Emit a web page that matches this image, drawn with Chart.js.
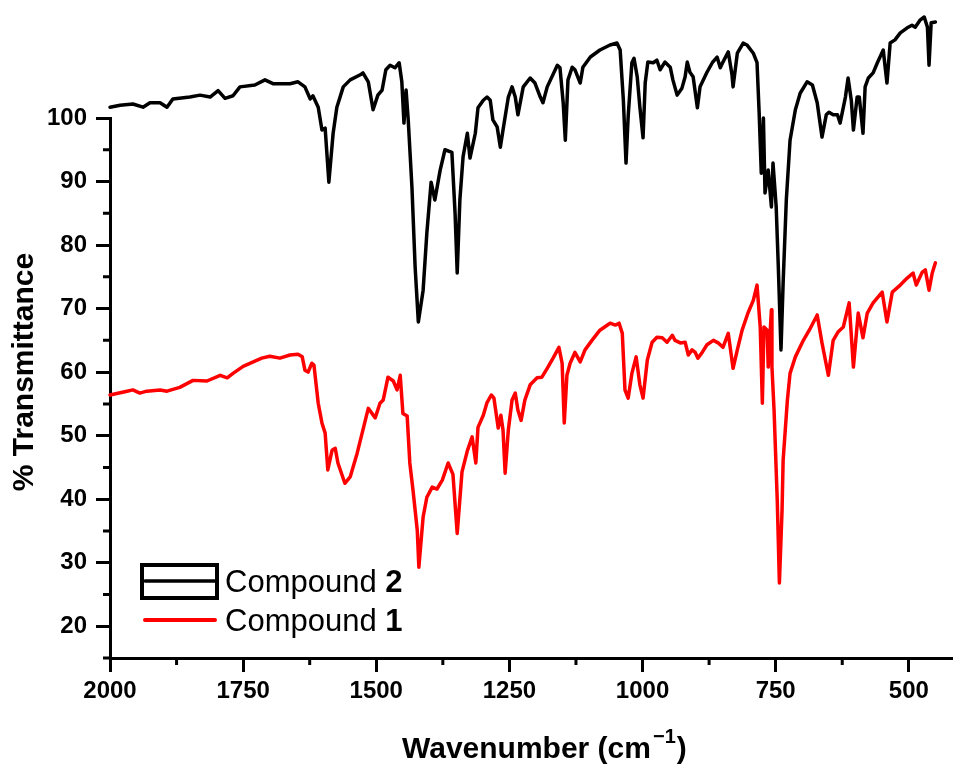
<!DOCTYPE html>
<html>
<head>
<meta charset="utf-8">
<title>IR spectra</title>
<script src="https://cdn.jsdelivr.net/npm/chart.js@4/dist/chart.umd.min.js"></script>
<style>
  html, body { margin: 0; padding: 0; background: #fff; }
  #wrap { width: 953px; height: 767px; }
</style>
</head>
<body>
<div id="wrap"><canvas id="ir" width="953" height="767"></canvas></div>
<script>
// Compound 2 (black trace), wavenumber in cm-1 and % transmittance
const WAVENUMBER_2 = [2000,1981,1957,1938,1925,1906,1893,1882,1850,1831,1812,1797,1784,1769,1756,1728,1709,1694,1662,1647,
  1634,1624,1619,1609,1602,1596,1589,1581,1574,1562,1549,1530,1525,1515,1506,1497,1489,1482,1474,1465,
  1457,1452,1448,1444,1440,1433,1427,1421,1412,1405,1397,1390,1380,1371,1358,1352,1348,1343,1337,1329,
  1324,1314,1309,1299,1292,1286,1281,1273,1267,1262,1252,1245,1239,1234,1224,1211,1202,1192,1187,1179,
  1160,1155,1149,1145,1140,1132,1127,1117,1112,1098,1080,1061,1048,1042,1036,1031,1027,1020,1016,1010,
  1005,999,995,990,980,973,967,958,948,943,935,926,920,916,911,905,897,892,879,869,
  860,854,849,839,832,830,822,811,804,792,785,781,777,773,770,764,758,755,749,745,
  740,736,730,723,713,704,691,681,672,663,655,650,642,634,629,619,614,608,604,597,
  593,586,582,576,567,559,548,541,535,526,516,503,494,488,479,471,465,462,458,450];
const TRANSMITTANCE_2 = [101.7,102.0,102.2,101.7,102.4,102.4,101.7,103.0,103.3,103.6,103.3,104.3,103.1,103.5,104.9,105.2,106.0,105.4,105.4,105.7,
  104.9,103.0,103.5,101.7,98.1,98.4,89.9,97.6,101.7,104.9,106.0,106.8,107.1,105.7,101.3,103.6,104.4,107.6,108.3,107.9,
  108.7,105.7,99.2,104.4,99.7,89.1,76.5,67.9,72.9,81.9,89.9,87.1,91.8,95.0,94.6,85.0,75.6,87.1,93.9,97.6,
  93.7,97.6,101.6,102.8,103.3,102.8,99.7,98.6,95.4,98.1,103.3,104.9,103.3,100.5,104.9,106.3,105.5,103.3,102.4,104.9,
  108.3,107.9,102.4,96.5,106.0,108.0,107.6,105.5,108.0,109.6,110.7,111.5,111.8,110.7,102.8,92.9,100.2,108.7,109.4,106.5,
  101.7,96.9,105.5,108.8,108.7,109.1,107.6,108.8,108.0,106.0,103.6,104.7,106.5,108.8,107.2,106.5,101.6,104.9,107.2,108.7,
  109.6,107.9,108.8,110.4,106.8,104.9,110.2,111.8,111.5,110.2,108.7,100.8,91.3,100.0,88.2,91.8,86.0,92.9,86.0,76.5,
  63.5,74.0,87.1,96.5,101.3,103.9,105.7,105.2,102.4,97.0,100.5,100.9,100.5,100.5,99.2,103.3,106.3,102.8,98.1,103.3,
  103.3,97.6,104.9,106.3,107.1,108.7,110.7,105.5,111.8,112.3,113.4,114.2,114.6,114.3,115.4,115.9,114.3,108.3,115.0,115.1];

// Compound 1 (red trace)
const WAVENUMBER_1 = [2000,1968,1957,1944,1931,1906,1893,1869,1844,1818,1793,1780,1769,1750,1731,1715,1700,1681,1662,1647,
  1639,1634,1628,1621,1617,1609,1602,1596,1591,1583,1577,1572,1559,1549,1536,1525,1515,1502,1493,1487,
  1478,1468,1461,1455,1450,1442,1437,1431,1423,1420,1412,1405,1395,1386,1376,1365,1356,1348,1339,1329,
  1320,1313,1309,1299,1292,1284,1279,1271,1266,1262,1258,1252,1245,1239,1234,1228,1221,1211,1198,1189,
  1179,1168,1157,1151,1147,1142,1136,1127,1117,1108,1095,1080,1061,1051,1044,1038,1033,1027,1020,1012,
  1005,999,991,982,973,963,954,944,939,929,920,914,907,901,896,888,879,867,858,849,
  839,830,822,813,802,792,785,779,775,772,766,764,758,757,753,747,743,738,736,728,
  723,713,698,685,672,663,651,642,633,623,612,604,595,586,578,567,550,541,531,516,
  503,492,486,475,469,462,456,450];
const TRANSMITTANCE_1 = [56.4,57.0,57.2,56.7,57.0,57.2,57.0,57.6,58.7,58.6,59.5,59.1,59.8,60.9,61.6,62.2,62.5,62.2,62.7,62.8,
  62.4,60.3,60.0,61.4,61.1,55.1,52.0,50.4,44.6,47.7,48.0,45.7,42.5,43.5,47.2,50.9,54.3,52.8,55.1,55.6,
  59.2,58.6,57.2,59.5,53.5,53.1,45.7,41.4,35.1,29.3,37.2,40.3,41.9,41.6,43.0,45.7,43.9,34.6,44.3,47.6,
  49.8,45.7,51.3,53.2,55.2,56.4,55.9,51.2,53.2,50.9,44.1,50.9,55.6,56.7,54.0,52.4,55.6,58.0,59.1,59.2,
  60.6,62.2,63.9,61.4,52.0,59.5,61.4,63.1,61.6,63.5,65.0,66.6,67.7,67.4,67.7,66.1,57.2,55.9,59.8,62.4,
  58.0,55.9,61.9,64.7,65.5,65.4,64.7,65.8,65.0,64.6,64.7,62.7,63.5,63.1,62.2,63.1,64.3,65.0,64.6,63.9,
  66.1,60.6,63.5,66.6,69.3,71.3,73.7,67.1,55.1,67.1,66.6,60.8,69.8,60.8,54.0,39.8,26.8,38.3,46.1,55.6,
  59.8,62.4,65.0,66.9,69.0,64.6,59.5,65.0,66.3,67.1,70.9,60.8,69.3,65.4,69.3,70.9,72.6,67.9,72.6,73.7,
  74.8,75.6,73.7,75.7,76.1,72.9,75.6,77.2];

const X_TICKS = [500, 750, 1000, 1250, 1500, 1750, 2000];
const X_MINOR_TICKS = [625, 875, 1125, 1375, 1625, 1875];
const Y_TICKS = [20, 30, 40, 50, 60, 70, 80, 90, 100];
const Y_MINOR_TICKS = [15, 25, 35, 45, 55, 65, 75, 85, 95];

const FONT = '"Liberation Sans", Arial, Helvetica, sans-serif';
const MINOR_LEN = 7;

function toPoints(xs, ys) {
  return xs.map((x, i) => ({ x, y: ys[i] }));
}

// minor ticks, axis titles and the Origin-style legend
const decorPlugin = {
  id: 'decor',
  afterDraw(chart) {
    const { ctx, chartArea, scales } = chart;
    ctx.save();
    ctx.strokeStyle = '#000';
    ctx.lineWidth = 3;
    ctx.beginPath();
    X_MINOR_TICKS.forEach((v) => {
      const px = scales.x.getPixelForValue(v);
      ctx.moveTo(px, chartArea.bottom);
      ctx.lineTo(px, chartArea.bottom + MINOR_LEN);
    });
    Y_MINOR_TICKS.forEach((v) => {
      const py = scales.y.getPixelForValue(v);
      ctx.moveTo(chartArea.left, py);
      ctx.lineTo(chartArea.left - MINOR_LEN, py);
    });
    ctx.stroke();

    ctx.fillStyle = '#000';

    // y title
    ctx.save();
    ctx.translate(25, 372);
    ctx.rotate(-Math.PI / 2);
    ctx.font = 'bold 30px ' + FONT;
    ctx.textAlign = 'center';
    ctx.textBaseline = 'middle';
    ctx.fillText('% Transmittance', 0, 0);
    ctx.restore();

    // x title with superscript
    ctx.textAlign = 'left';
    ctx.textBaseline = 'alphabetic';
    let cx = 402;
    ctx.font = 'bold 30px ' + FONT;
    ctx.fillText('Wavenumber (cm', cx, 758);
    cx += ctx.measureText('Wavenumber (cm').width + 2;
    ctx.font = 'bold 20px ' + FONT;
    ctx.fillText('\u22121', cx, 743);
    cx += ctx.measureText('\u22121').width + 1;
    ctx.font = 'bold 30px ' + FONT;
    ctx.fillText(')', cx, 758);

    // legend
    ctx.lineWidth = 4;
    ctx.strokeRect(142, 565, 75, 33);
    ctx.lineWidth = 3.5;
    ctx.lineCap = 'round';
    ctx.beginPath();
    ctx.moveTo(145, 581);
    ctx.lineTo(215, 581);
    ctx.stroke();
    ctx.strokeStyle = '#ff0000';
    ctx.lineWidth = 4;
    ctx.beginPath();
    ctx.moveTo(145, 620);
    ctx.lineTo(215, 620);
    ctx.stroke();

    const rows = [['Compound ', '2', 592], ['Compound ', '1', 631]];
    rows.forEach(([txt, num, base]) => {
      ctx.font = '31px ' + FONT;
      ctx.fillText(txt, 225, base);
      const w = ctx.measureText(txt).width;
      ctx.font = 'bold 31px ' + FONT;
      ctx.fillText(num, 225 + w, base);
    });
    ctx.restore();
  }
};

const axisStyle = {
  border: { display: true, color: '#000', width: 3 },
  grid: { drawOnChartArea: false, drawTicks: true, tickLength: 14, tickWidth: 3, tickColor: '#000' },
};

const lineStyle = {
  borderWidth: 3.5,
  pointRadius: 0,
  tension: 0,
  fill: false,
  clip: false,
  borderJoinStyle: 'round',
  borderCapStyle: 'round',
};

new Chart(document.getElementById('ir'), {
  type: 'line',
  data: {
    datasets: [
      { label: 'Compound 2', data: toPoints(WAVENUMBER_2, TRANSMITTANCE_2), borderColor: '#000000', ...lineStyle },
      { label: 'Compound 1', data: toPoints(WAVENUMBER_1, TRANSMITTANCE_1), borderColor: '#ff0000', ...lineStyle },
    ],
  },
  options: {
    responsive: false,
    animation: false,
    events: [],
    layout: { padding: { top: 118, right: 0, bottom: 0, left: 0 } },
    plugins: { legend: { display: false }, tooltip: { enabled: false } },
    scales: {
      x: {
        type: 'linear',
        reverse: true,
        min: 417,
        max: 2000,
        ...axisStyle,
        afterBuildTicks: (s) => { s.ticks = X_TICKS.map((v) => ({ value: v })); },
        afterFit: (s) => { s.height = 109; },
        ticks: {
          color: '#000',
          font: { family: FONT, size: 24, weight: 'bold' },
          padding: 5,
          maxRotation: 0,
          autoSkip: false,
          callback: (v) => String(v),
        },
      },
      y: {
        type: 'linear',
        min: 15,
        max: 100,
        ...axisStyle,
        afterBuildTicks: (s) => { s.ticks = Y_TICKS.map((v) => ({ value: v })); },
        afterFit: (s) => { s.width = 110; },
        ticks: {
          color: '#000',
          font: { family: FONT, size: 24, weight: 'bold' },
          padding: 9,
          autoSkip: false,
          callback: (v) => String(v),
        },
      },
    },
  },
  plugins: [decorPlugin],
});
</script>
</body>
</html>
